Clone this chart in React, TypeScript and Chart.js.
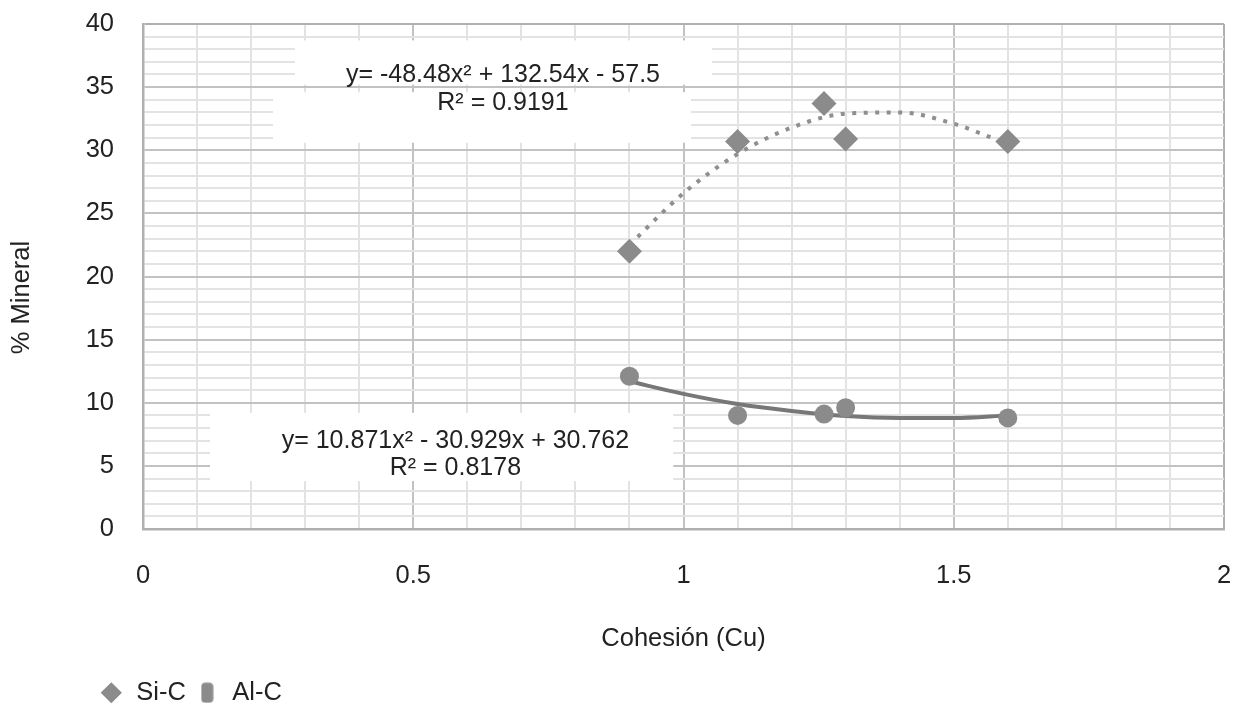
import React, { useEffect, useRef } from 'react';
import { Chart, registerables } from 'chart.js';

Chart.register(...registerables);

// ---- data ----
const seriesNames = ['Si-C', 'Al-C'];
const siX = [0.9, 1.1, 1.26, 1.3, 1.6];
const siY = [22.0, 30.7, 33.7, 30.9, 30.7];
const alX = [0.9, 1.1, 1.26, 1.3, 1.6];
const alY = [12.1, 9.0, 9.1, 9.6, 8.8];
// trendline points
const siTrendX = [0.9, 1.0, 1.1, 1.2, 1.3, 1.4, 1.5, 1.57];
const siTrendY = [22.5, 26.6, 29.7, 31.8, 32.9, 33.0, 32.1, 31.0];
const alTrendX = [0.9, 1.0, 1.1, 1.2, 1.3, 1.4, 1.5, 1.6];
const alTrendY = [11.7, 10.7, 9.9, 9.35, 8.95, 8.8, 8.8, 9.0];
const siEquation = ['y= -48.48x² + 132.54x - 57.5', 'R² = 0.9191'];
const alEquation = ['y= 10.871x² - 30.929x + 30.762', 'R² = 0.8178'];
const xAxisTitle = 'Cohesión (Cu)';
const yAxisTitle = '% Mineral';

const FONT = '"Liberation Sans", Arial, Helvetica, sans-serif';
const TEXT = '#222222';
const MARK = '#8b8b8b';
const FS = 25.5;
const LEGEND_SHIFT = 90;

// label anchors (data units): [centerX, baselineY] per line; boxes: [x0, x1, y0, y1]
const siEqAnchors = [[0.666, 35.4], [0.666, 33.2]];
const siEqBoxes = [[0.281, 1.053, 38.7, 35.2], [0.2405, 1.014, 34.6, 30.6]];
const alEqAnchors = [[0.578, 6.4], [0.578, 4.27]];
const alEqBoxes = [[0.124, 0.981, 9.2, 3.8]];

const isMult = (v: number, m: number) => Math.abs(v / m - Math.round(v / m)) < 1e-6;

const labelPlugin = {
  id: 'eqLabels',
  afterLayout(chart: any) {
    if (chart.legend) {
      chart.legend.left += LEGEND_SHIFT;
    }
  },
  beforeDatasetsDraw(chart: any) {
    const { ctx, scales, chartArea } = chart;
    const x = scales.x, y = scales.y;
    ctx.save();
    ctx.fillStyle = '#ffffff';
    for (const b of [...siEqBoxes, ...alEqBoxes]) {
      const l = x.getPixelForValue(b[0]);
      const r = x.getPixelForValue(b[1]);
      const t = y.getPixelForValue(b[2]);
      const bt = y.getPixelForValue(b[3]);
      ctx.fillRect(l, t, r - l, bt - t);
    }
    ctx.fillStyle = TEXT;
    ctx.font = `25px ${FONT}`;
    ctx.textAlign = 'center';
    ctx.textBaseline = 'alphabetic';
    siEquation.forEach((s, i) => {
      ctx.fillText(s, x.getPixelForValue(siEqAnchors[i][0]), y.getPixelForValue(siEqAnchors[i][1]));
    });
    alEquation.forEach((s, i) => {
      ctx.fillText(s, x.getPixelForValue(alEqAnchors[i][0]), y.getPixelForValue(alEqAnchors[i][1]));
    });
    // y axis title
    ctx.font = `${FS}px ${FONT}`;
    ctx.textBaseline = 'middle';
    ctx.translate(22, (chartArea.top + chartArea.bottom) / 2 + 21);
    ctx.rotate(-Math.PI / 2);
    ctx.fillText(yAxisTitle, 0, 0);
    ctx.restore();
  },
};

export default function App() {
  const ref = useRef<HTMLCanvasElement | null>(null);

  useEffect(() => {
    if (!ref.current) return;
    Chart.defaults.font.family = FONT;

    const alIcon = document.createElement('canvas');
    alIcon.width = 13;
    alIcon.height = 21;
    const ic = alIcon.getContext('2d')!;
    ic.fillStyle = MARK;
    ic.beginPath();
    (ic as any).roundRect ? (ic as any).roundRect(0.5, 0.5, 12, 20, 4) : ic.rect(0.5, 0.5, 12, 20);
    ic.fill();

    const chart = new Chart(ref.current, {
      type: 'scatter',
      data: {
        datasets: [
          {
            label: seriesNames[0],
            data: siX.map((v, i) => ({ x: v, y: siY[i] })),
            pointStyle: 'rectRot',
            pointRadius: 12.5,
            backgroundColor: MARK,
            borderWidth: 0,
            order: 0,
          },
          {
            label: seriesNames[1],
            data: alX.map((v, i) => ({ x: v, y: alY[i] })),
            pointStyle: 'circle',
            pointRadius: 9.5,
            backgroundColor: MARK,
            borderWidth: 0,
            order: 0,
          },
          {
            label: 'trend Si-C',
            data: siTrendX.map((v, i) => ({ x: v, y: siTrendY[i] })),
            showLine: true,
            pointRadius: 0,
            borderColor: '#8f8f8f',
            borderWidth: 4,
            borderDash: [4, 7.5],
            borderCapStyle: 'butt',
            cubicInterpolationMode: 'monotone',
            order: 1,
          },
          {
            label: 'trend Al-C',
            data: alTrendX.map((v, i) => ({ x: v, y: alTrendY[i] })),
            showLine: true,
            pointRadius: 0,
            borderColor: '#777777',
            borderWidth: 4,
            cubicInterpolationMode: 'monotone',
            order: 1,
          },
        ] as any,
      },
      options: {
        responsive: false,
        animation: false,
        layout: { padding: { left: 0, right: 14, top: 24, bottom: 0 } },
        plugins: {
          tooltip: { enabled: false },
          legend: {
            position: 'bottom',
            align: 'start',
            maxHeight: 35,
            labels: {
              usePointStyle: true,
              boxWidth: 24.6,
              boxHeight: 15,
              padding: 9,
              color: TEXT,
              font: { size: FS, family: FONT },
              filter: (item: any) => item.datasetIndex < 2,
              generateLabels: (c: any) => {
                const items = (Chart.defaults.plugins.legend.labels as any).generateLabels(c);
                items.forEach((it: any) => {
                  if (it.datasetIndex === 1) it.pointStyle = alIcon;
                });
                return items;
              },
            },
          },
        },
        scales: {
          x: {
            type: 'linear',
            min: 0,
            max: 2,
            afterFit: (s: any) => { s.height = 142; },
            ticks: {
              stepSize: 0.1,
              autoSkip: false,
              maxRotation: 0,
              padding: 0,
              color: TEXT,
              font: { size: FS, family: FONT },
              callback: (v: any) => (isMult(Number(v), 0.5) ? String(Math.round(Number(v) * 10) / 10) : ''),
            },
            grid: {
              drawTicks: true,
              tickLength: 32,
              tickColor: 'rgba(0,0,0,0)',
              lineWidth: 2,
              color: (ctx: any) => {
                const v = ctx.tick ? ctx.tick.value : 0;
                if (Math.abs(v - 2) < 1e-6) return '#b0b0b0';
                return isMult(v, 0.5) ? '#c2c2c2' : '#e3e3e3';
              },
            },
            border: { display: true, color: '#b0b0b0', width: 2.5 },
            title: {
              display: true,
              text: xAxisTitle,
              color: TEXT,
              font: { size: FS, family: FONT },
              padding: { top: 0, bottom: 17 },
            },
          },
          y: {
            type: 'linear',
            min: 0,
            max: 40,
            afterFit: (s: any) => { s.width = 143; },
            ticks: {
              stepSize: 1,
              autoSkip: false,
              padding: 0,
              color: TEXT,
              font: { size: FS, family: FONT },
              callback: (v: any) => (isMult(Number(v), 5) ? String(v) : ''),
            },
            grid: {
              drawTicks: true,
              tickLength: 29,
              tickColor: 'rgba(0,0,0,0)',
              lineWidth: 2,
              color: (ctx: any) => {
                const v = ctx.tick ? ctx.tick.value : 0;
                if (Math.abs(v - 40) < 1e-6) return '#b0b0b0';
                return isMult(v, 5) ? '#c2c2c2' : '#e3e3e3';
              },
            },
            border: { display: true, color: '#b0b0b0', width: 2.5 },
          },
        },
      },
      plugins: [labelPlugin],
    } as any);

    return () => chart.destroy();
  }, []);

  return (
    <div style={{ position: 'absolute', left: 0, top: 0, width: 1238, height: 706, background: '#fff' }}>
      <canvas ref={ref} width={1238} height={706} style={{ display: 'block' }} />
    </div>
  );
}
